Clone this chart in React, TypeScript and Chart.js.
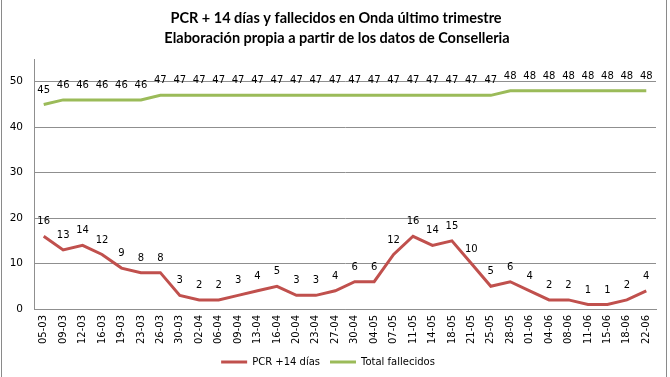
import React, { useEffect, useRef } from "react";
import { Chart, registerables } from "chart.js";

Chart.register(...registerables);

const titleLines = [
  "PCR + 14 días y fallecidos en Onda último trimestre",
  "Elaboración propia a partir de los datos de Conselleria",
];

const categories = [
  "05-03", "09-03", "12-03", "16-03", "19-03", "23-03", "26-03", "30-03",
  "02-04", "06-04", "09-04", "13-04", "16-04", "20-04", "23-04", "27-04",
  "30-04", "04-05", "07-05", "11-05", "14-05", "18-05", "21-05", "25-05",
  "28-05", "01-06", "04-06", "08-06", "11-06", "15-06", "18-06", "22-06",
];

const pcrValues = [
  16, 13, 14, 12, 9, 8, 8, 3, 2, 2, 3, 4, 5, 3, 3, 4,
  6, 6, 12, 16, 14, 15, 10, 5, 6, 4, 2, 2, 1, 1, 2, 4,
];

const fallecidosValues = [
  45, 46, 46, 46, 46, 46, 47, 47, 47, 47, 47, 47, 47, 47, 47, 47,
  47, 47, 47, 47, 47, 47, 47, 47, 48, 48, 48, 48, 48, 48, 48, 48,
];

const seriesNames = ["PCR +14 días", "Total fallecidos"];
const yTicks = [0, 10, 20, 30, 40, 50];

const RED = "#C0504D";
const GREEN = "#9BBB59";
const GRID = "#8f8f8f";

const decorPlugin = {
  id: "decor",
  afterDraw(chart: any) {
    const ctx = chart.ctx;
    ctx.save();
    // frame lines
    ctx.strokeStyle = "#8a8a8a";
    ctx.lineWidth = 1;
    ctx.beginPath();
    ctx.moveTo(1.5, 0);
    ctx.lineTo(1.5, chart.height);
    ctx.moveTo(666.5, 0);
    ctx.lineTo(666.5, chart.height);
    ctx.stroke();
    // title
    ctx.fillStyle = "#000";
    ctx.textAlign = "center";
    ctx.textBaseline = "middle";
    ctx.font = "bold 14.5px Lato";
    ctx.fillText(titleLines[0], 336, 18);
    ctx.fillText(titleLines[1], 337, 38);
    // data labels
    ctx.font = "10px 'DejaVu Sans'";
    chart.data.datasets.forEach((ds: any, i: number) => {
      const meta = chart.getDatasetMeta(i);
      meta.data.forEach((pt: any, j: number) => {
        ctx.fillText(String(ds.data[j]), pt.x, pt.y - 14.5);
      });
    });
    ctx.restore();
  },
};

export default function App() {
  const ref = useRef<HTMLCanvasElement>(null);
  useEffect(() => {
    document.body.style.margin = "0";
    const chart = new Chart(ref.current as HTMLCanvasElement, {
      type: "line",
      data: {
        labels: categories,
        datasets: [
          {
            label: seriesNames[0],
            data: pcrValues,
            borderColor: RED,
            backgroundColor: RED,
            borderWidth: 3,
            pointRadius: 0,
            tension: 0,
          },
          {
            label: seriesNames[1],
            data: fallecidosValues,
            borderColor: GREEN,
            backgroundColor: GREEN,
            borderWidth: 3,
            pointRadius: 0,
            tension: 0,
          },
        ],
      },
      options: {
        animation: false,
        responsive: false,
        maintainAspectRatio: false,
        layout: { padding: { top: 59, right: 14, left: 0, bottom: 0 } },
        plugins: {
          title: { display: false },
          tooltip: { enabled: false },
          legend: {
            position: "bottom",
            labels: {
              boxWidth: 26,
              boxHeight: 3,
              padding: 10,
              color: "#000",
              font: { family: "'DejaVu Sans'", size: 10 },
              generateLabels: (chart: any) =>
                chart.data.datasets.map((ds: any, i: number) => ({
                  text: ds.label,
                  fillStyle: ds.borderColor,
                  strokeStyle: ds.borderColor,
                  lineWidth: 0,
                  hidden: false,
                  datasetIndex: i,
                  fontColor: "#000",
                })),
            },
          },
        },
        scales: {
          x: {
            offset: true,
            grid: { display: false, drawTicks: false },
            border: { display: true, color: GRID, width: 1 },
            ticks: {
              autoSkip: false,
              maxRotation: 90,
              minRotation: 90,
              padding: 6,
              color: "#000",
              font: { family: "'DejaVu Sans'", size: 10 },
            },
            afterFit: (scale: any) => {
              scale.height = 38;
            },
          },
          y: {
            min: 0,
            max: 55,
            afterBuildTicks: (scale: any) => {
              scale.ticks = yTicks.map((v) => ({ value: v }));
            },
            grid: { color: GRID, drawTicks: false },
            border: { display: true, color: GRID, width: 1 },
            ticks: {
              padding: 11,
              color: "#000",
              font: { family: "'DejaVu Sans'", size: 10.5 },
            },
            afterFit: (scale: any) => {
              scale.width = 34;
            },
          },
        },
      },
      plugins: [decorPlugin],
    } as any);
    return () => chart.destroy();
  }, []);
  return (
    <div style={{ width: 670, height: 377 }}>
      <canvas ref={ref} width={670} height={377} />
    </div>
  );
}
